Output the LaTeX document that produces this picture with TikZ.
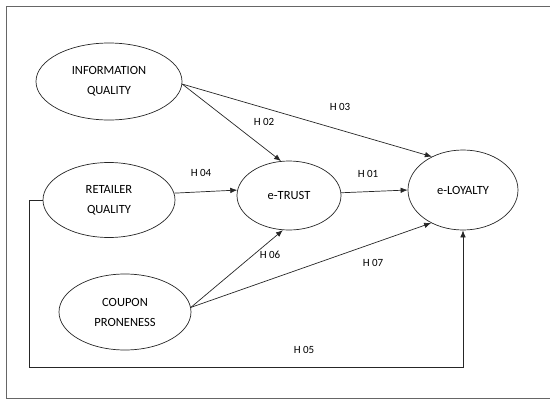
\documentclass[tikz,border=0pt]{standalone}
\usepackage{fontspec}
\setmainfont{Carlito}
\usetikzlibrary{shapes.geometric,arrows.meta}
\begin{document}
\begin{tikzpicture}[x=1pt,y=-1pt,
  construct/.style={draw=black!85,ellipse,inner sep=0pt,line width=0.7pt,
    font=\fontsize{12.5}{20}\selectfont,align=center,text=black},
  path/.style={draw=black!85,line width=0.7pt,-{Latex[length=7pt,width=5.5pt]}},
  hyp/.style={font=\fontsize{11}{12}\selectfont,text=black,inner sep=0pt}]
\useasboundingbox (0,0) rectangle (550,399);
\begin{scope}
\clip (0,0) rectangle (550,399);
% outer frame, open on the right
\draw[black!60,line width=0.9pt] (560,6.5) -- (6,6.5) -- (6,398) -- (560,398);
\end{scope}
% constructs
\node[construct,minimum width=146pt,minimum height=77pt] (iq) at (109,81.5) {INFORMATION\\QUALITY};
\node[construct,minimum width=132pt,minimum height=75pt] (rq) at (109,200) {RETAILER\\QUALITY};
\node[construct,minimum width=132pt,minimum height=76pt] (cp) at (125,312) {COUPON\\PRONENESS};
\node[construct,minimum width=104pt,minimum height=69pt] (et) at (289,195.5) {e-TRUST};
\node[construct,minimum width=110pt,minimum height=80pt] (el) at (463,190) {e-LOYALTY};
% hypothesised paths
\draw[path] (iq.-2) -- (et.103);
\draw[path] (iq.-2) -- (el.133);
\draw[path] (rq.6) -- (et.174);
\draw[path] (et.3) -- (el.180);
\draw[path] (cp.4) -- (et.260);
\draw[path] (cp.4) -- (el.226);
\coordinate (fb) at (29,367);
\draw[path] (rq.west) -| (fb) -| (el.south);
% labels
\node[hyp] (h02) at (264,122) {H 02};
\node[hyp] (h03) at (340,107) {H 03};
\node[hyp] (h04) at (201,173) {H 04};
\node[hyp] (h01) at (368,174) {H 01};
\node[hyp] (h06) at (270,255) {H 06};
\node[hyp] (h07) at (373,263) {H 07};
\node[hyp] (h05) at (304,350) {H 05};
\end{tikzpicture}
\end{document}
